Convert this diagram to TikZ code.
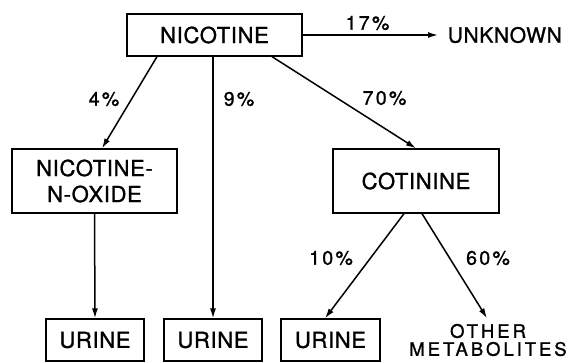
\documentclass[tikz,border=0pt]{standalone}
\usepackage{fontspec}
\usepackage{tikz}
\usetikzlibrary{arrows.meta,positioning,calc}
\newfontfamily\boxfont[LetterSpace=3,FakeBold=1.2]{TeX Gyre Heros}
\newfontfamily\pctfont[LetterSpace=12,FakeBold=1.2]{TeX Gyre Heros}
\newfontfamily\othfont[LetterSpace=16,FakeBold=1.2]{TeX Gyre Heros}

\begin{document}
\begin{tikzpicture}[x=1pt, y=-1pt, line width=1.5pt, >={Latex[length=10pt,width=6pt]},
    box/.style={draw, line width=1.3pt, inner sep=0pt, minimum height=42pt, font=\boxfont\fontsize{22}{26}\selectfont},
    pct/.style={inner sep=0pt, font=\pctfont\fontsize{19.5}{20}\selectfont},
    flow/.style={->}]
\useasboundingbox (0,0) rectangle (575,362);
% Nicotine and its first products.
\node[box, minimum width=175pt] (nic) at (214.5,35) {NICOTINE};
\node[anchor=west, inner xsep=9pt, inner ysep=0pt, font=\boxfont\fontsize{21}{25}\selectfont] (unk) at (438,35) {UNKNOWN};
\node[box, minimum width=165pt, minimum height=64pt, align=center] (nox) at (94.5,181) {NICOTINE-\\N-OXIDE};
\node[box, minimum width=166pt, minimum height=64pt] (cot) at (416,181) {COTININE};
% End products.
\node[box, minimum width=98pt] (ur1) at (95,340) {URINE};
\node[box, minimum width=98pt] (ur2) at (213,340) {URINE};
\node[box, minimum width=99pt] (ur3) at (330.5,340) {URINE};
\node[align=center, inner sep=0pt, font=\othfont\fontsize{18.5}{18}\selectfont] (oth) at (488,340) {OTHER\\METABOLITES};
% Flows.
\draw[flow] (nic.east) -- (unk.west);
\draw[flow] ([xshift=-57.5pt]nic.south) -- ([xshift=7.5pt]nox.north);
\draw[flow] (nic.south -| ur2.north) -- (ur2.north);
\draw[flow] ([xshift=57.5pt]nic.south) -- (cot.north);
\draw[flow] (nox.south) -- (ur1.north);
\draw[flow] ([xshift=-12pt]cot.south) -- ([xshift=-5.5pt]ur3.north);
\draw[flow] ([xshift=6pt]cot.south) -- ([xshift=-1pt, yshift=5pt]oth.north);
% Shares.
\node[pct] (p17) at (367.5,23) {17\%};
\node[pct] (p4) at (104,99) {4\%};
\node[pct] (p9) at (239,99) {9\%};
\node[pct] (p70) at (384.5,98) {70\%};
\node[pct] (p10) at (331,258) {10\%};
\node[pct] (p60) at (488,258) {60\%};
\end{tikzpicture}
\end{document}
